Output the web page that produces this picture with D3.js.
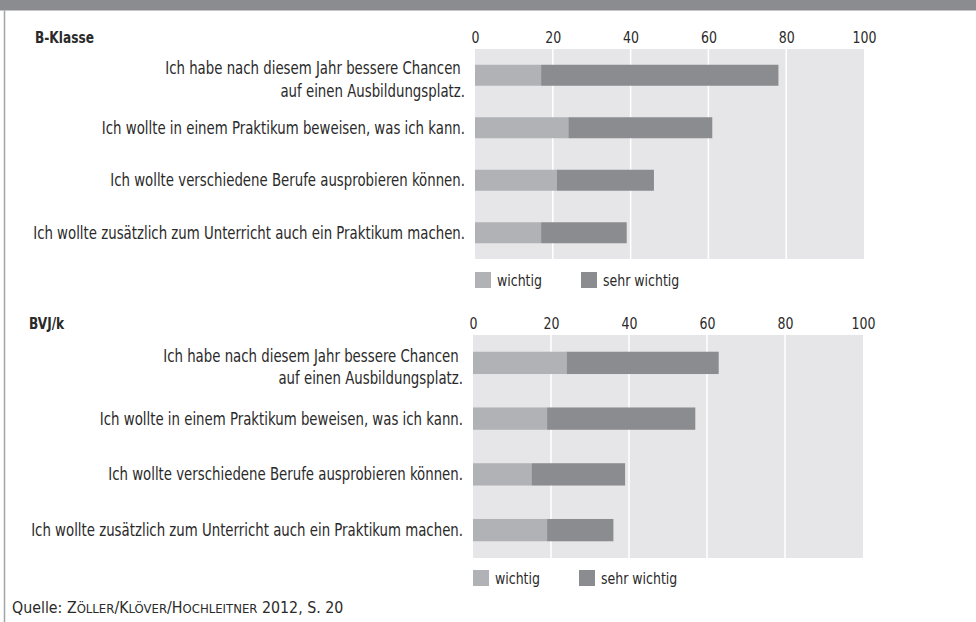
<!DOCTYPE html>
<html>
<head>
<meta charset="utf-8">
<script src="https://cdn.jsdelivr.net/npm/d3@7"></script>
<style>
  html, body { margin: 0; padding: 0; background: #fff; }
  svg { display: block; }
  text { font-family: "DejaVu Sans Condensed", "Liberation Sans Narrow", "Open Sans", sans-serif; fill: #2a2a2a; }
</style>
</head>
<body>
<svg id="chart" width="976" height="622"></svg>
<script>
// Statements (same for both groups)
const categories = [
  ["Ich habe nach diesem Jahr bessere Chancen ", "auf einen Ausbildungsplatz."],
  ["Ich wollte in einem Praktikum beweisen, was ich kann."],
  ["Ich wollte verschiedene Berufe ausprobieren können."],
  ["Ich wollte zusätzlich zum Unterricht auch ein Praktikum machen."]
];

// Shares in percent, per group
const bKlasseWichtig      = [17, 24, 21, 17];
const bKlasseSehrWichtig  = [61, 37, 25, 22];
const bvjWichtig          = [24, 19, 15, 19];
const bvjSehrWichtig      = [39, 38, 24, 17];

const tickValues = [0, 20, 40, 60, 80, 100];
const seriesNames = ["wichtig", "sehr wichtig"];
const seriesColors = ["#b1b2b5", "#8b8c8f"];

const LABEL_SIZE = 17.5;
const LABEL_WIDTH = 432;   // width available for the longest statement

const svg = d3.select("#chart");

// horizontal condensing factor so the longest statement fits its column
const probe = svg.append("text").attr("font-size", LABEL_SIZE).text(categories[3][0]);
const K = LABEL_WIDTH / probe.node().getComputedTextLength();
probe.remove();

// condense a text element horizontally around its anchor x
function condense(sel) {
  sel.each(function () {
    const ax = +(this.getAttribute("x") || 0);
    d3.select(this).attr("transform", `translate(${ax},0) scale(${K},1) translate(${-ax},0)`);
  });
}

// header band and left rule
svg.append("rect").attr("x", 0).attr("y", 0).attr("width", 976).attr("height", 10.5).attr("fill", "#8b8c8f");
svg.append("line").attr("x1", 4.5).attr("x2", 4.5).attr("y1", 10.5).attr("y2", 622)
  .attr("stroke", "#a3a4a6").attr("stroke-width", 1.5);

function drawPanel(cfg) {
  const g = svg.append("g");
  const x = d3.scaleLinear().domain([0, 100]).range([cfg.x0, cfg.x1]);
  const y = d3.scaleBand().domain(d3.range(categories.length))
    .range([cfg.yTop, cfg.yBot]).paddingInner(0.6).paddingOuter(0.3);

  // title
  g.append("text").attr("x", cfg.titleX).attr("y", cfg.tickY)
    .attr("font-size", 16).attr("font-weight", "bold").text(cfg.title).call(condense);

  // plot background
  g.append("rect").attr("x", x(0)).attr("y", cfg.yTop)
    .attr("width", x(100) - x(0)).attr("height", cfg.yBot - cfg.yTop).attr("fill", "#e6e6e8");

  // top axis
  const axis = d3.axisTop(x).tickValues(tickValues).tickSize(0).tickPadding(0);
  const ax = g.append("g").attr("transform", `translate(0,${cfg.tickY})`).call(axis);
  ax.select(".domain").remove();
  ax.selectAll("text").attr("font-size", 16.5).attr("fill", "#2a2a2a").attr("dy", 0)
    .style("font-family", '"DejaVu Sans Condensed", sans-serif').call(condense);

  // vertical grid
  g.selectAll(".grid").data(tickValues.slice(1, -1)).join("line")
    .attr("x1", d => x(d)).attr("x2", d => x(d))
    .attr("y1", cfg.yTop).attr("y2", cfg.yBot)
    .attr("stroke", "#fff").attr("stroke-width", 1.5);

  // stacked bars
  const rows = cfg.wichtig.map((w, i) => ({ i, parts: [[0, w], [w, w + cfg.sehr[i]]] }));
  rows.forEach(r => {
    r.parts.forEach((p, k) => {
      g.append("rect")
        .attr("x", x(p[0])).attr("y", y(r.i))
        .attr("width", x(p[1]) - x(p[0])).attr("height", y.bandwidth())
        .attr("fill", seriesColors[k]);
    });
  });

  // category labels
  const lx = x(0) - 10;
  categories.forEach((lines, i) => {
    const cy = y(i) + y.bandwidth() / 2;
    const t = g.append("text").attr("text-anchor", "end").attr("font-size", LABEL_SIZE)
      .attr("x", lx).style("white-space", "pre");
    if (lines.length === 1) {
      t.attr("y", cy + 6).text(lines[0]);
    } else {
      lines.forEach((l, j) => {
        t.append("tspan").attr("x", lx).attr("y", cy - 1 + j * 22.5).text(l);
      });
    }
    t.call(condense);
  });

  // legend
  const lg = g.append("g").attr("transform", `translate(${x(0)},${cfg.legendY})`);
  const offsets = [0, 106];
  seriesNames.forEach((n, k) => {
    lg.append("rect").attr("x", offsets[k]).attr("y", 0).attr("width", 16).attr("height", 16)
      .attr("fill", seriesColors[k]);
    lg.append("text").attr("x", offsets[k] + 22).attr("y", 13.5).attr("font-size", 16.5).text(n).call(condense);
  });
}

drawPanel({
  title: "B-Klasse", titleX: 35, tickY: 43,
  x0: 475, x1: 864, yTop: 49, yBot: 259, legendY: 272,
  wichtig: bKlasseWichtig, sehr: bKlasseSehrWichtig
});

drawPanel({
  title: "BVJ/k", titleX: 29, tickY: 329,
  x0: 473, x1: 863, yTop: 335, yBot: 558, legendY: 570,
  wichtig: bvjWichtig, sehr: bvjSehrWichtig
});

// source line, author names set in small caps
const src = svg.append("text").attr("x", 12).attr("y", 613).attr("font-size", 15.8);
src.append("tspan").text("Quelle: ");
["Zöller", "/", "Klöver", "/", "Hochleitner"].forEach(w => {
  if (w === "/") { src.append("tspan").text("/"); return; }
  src.append("tspan").text(w[0]);
  src.append("tspan").attr("font-size", 13).text(w.slice(1).toUpperCase());
});
src.append("tspan").text(" 2012, S. 20");
</script>
</body>
</html>
